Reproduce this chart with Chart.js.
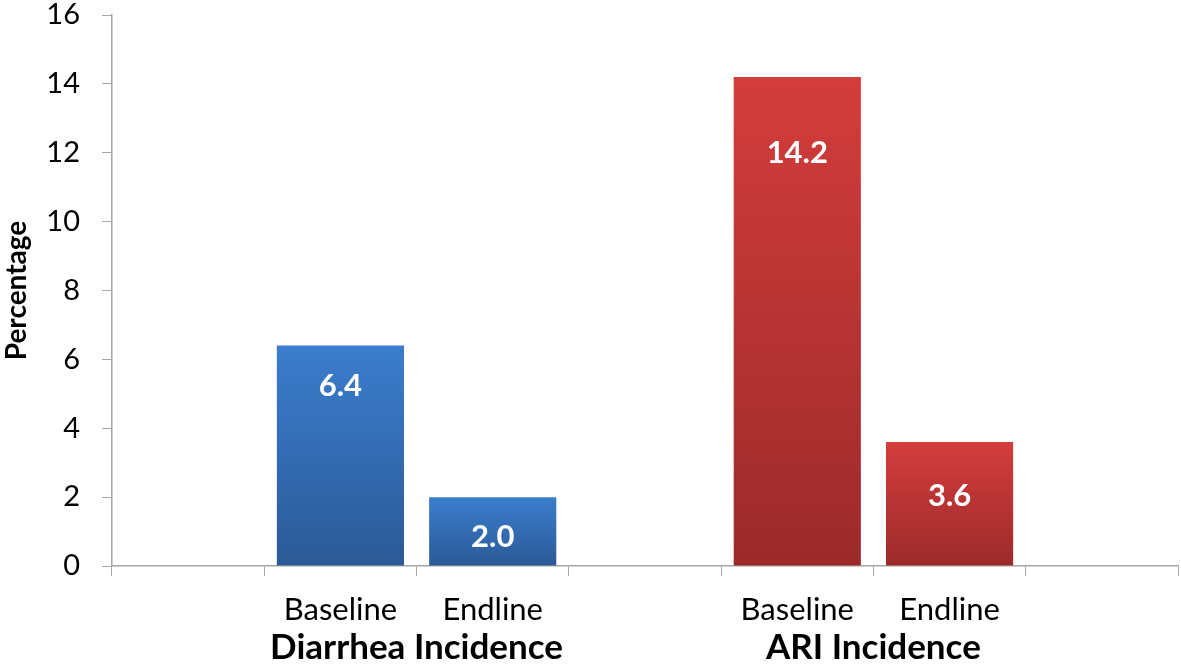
<!DOCTYPE html>
<html>
<head>
<meta charset="utf-8">
<script src="https://cdn.jsdelivr.net/npm/chart.js@4"></script>
<style>
  html, body { margin: 0; padding: 0; background: #fff; }
  #wrap { width: 1181px; height: 664px; }
</style>
</head>
<body>
<div id="wrap"><canvas id="chart"></canvas></div>
<script>
// slots along the x axis (empty slots give the spacing seen in the original)
var categories = ['', 'Baseline', 'Endline', '', 'Baseline', 'Endline', ''];
var values = [null, 6.4, 2.0, null, 14.2, 3.6, null];
var groupNames = ['Diarrhea Incidence', 'ARI Incidence'];
var groupSlots = [[1, 2], [4, 5]];
var yTicks = [0, 2, 4, 6, 8, 10, 12, 14, 16];

// colours per slot: blue for diarrhea, red for ARI
var topColors = [null, '#3b7dce', '#3b7dce', null, '#d33d3c', '#d33d3c', null];
var bottomColors = [null, '#2b5a96', '#2b5a96', null, '#9c2a2a', '#9c2a2a', null];
// how far below the bar top the value label sits (px)
var labelDrop = [0, 40, 40, 0, 76, 54, 0];

var FONT = 'Lato, "Open Sans", sans-serif';

function barGradient(ctx) {
    var i = ctx.dataIndex;
    var chart = ctx.chart;
    var y = chart.scales.y;
    if (topColors[i] == null || !y || !chart.chartArea) {
        return topColors[i] || '#3b7dce';
    }
    var top = y.getPixelForValue(values[i]);
    var base = y.getPixelForValue(0);
    if (!isFinite(top) || !isFinite(base)) return topColors[i];
    var g = chart.ctx.createLinearGradient(0, top, 0, base);
    g.addColorStop(0, topColors[i]);
    g.addColorStop(1, bottomColors[i]);
    return g;
}

var labelsPlugin = {
    id: 'labelsPlugin',
    afterDatasetsDraw: function(chart) {
        var c = chart.ctx;
        var meta = chart.getDatasetMeta(0);
        c.save();
        c.fillStyle = '#ffffff';
        c.font = 'bold 31px ' + FONT;
        c.textAlign = 'center';
        c.textBaseline = 'middle';
        meta.data.forEach(function(bar, i) {
            if (values[i] == null) return;
            c.fillText(values[i].toFixed(1), bar.x, bar.y + labelDrop[i]);
        });
        c.restore();
    },
    afterDraw: function(chart) {
        var c = chart.ctx;
        var x = chart.scales.x;
        c.save();
        c.fillStyle = '#000';
        c.font = 'bold 35px ' + FONT;
        c.textAlign = 'center';
        c.textBaseline = 'middle';
        groupSlots.forEach(function(s, k) {
            var px = (x.getPixelForValue(s[0]) + x.getPixelForValue(s[1])) / 2;
            c.fillText(groupNames[k], px, 648);
        });
        c.restore();
    }
};

var ctx = document.getElementById('chart').getContext('2d');
var chart = new Chart(ctx, {
    type: 'bar',
    data: {
        labels: categories,
        datasets: [{
            data: values,
            backgroundColor: barGradient,
            borderWidth: 0,
            barPercentage: 0.835,
            categoryPercentage: 1.0
        }]
    },
    options: {
        responsive: true,
        maintainAspectRatio: false,
        animation: false,
        layout: { padding: { top: 0, right: 3, left: 0, bottom: 0 } },
        plugins: {
            legend: { display: false },
            tooltip: { enabled: false }
        },
        scales: {
            x: {
                offset: true,
                grid: {
                    offset: true,
                    drawOnChartArea: false,
                    tickLength: 10,
                    tickColor: '#a6a6a6'
                },
                border: { color: '#a6a6a6', width: 1.5 },
                ticks: {
                    color: '#000',
                    font: { family: FONT, size: 31 },
                    padding: 15,
                    maxRotation: 0,
                    autoSkip: false
                },
                afterFit: function(scale) { scale.height = 98; }
            },
            y: {
                min: 0,
                max: 16,
                afterBuildTicks: function(scale) {
                    scale.ticks = yTicks.map(function(v) { return { value: v }; });
                },
                grid: {
                    drawOnChartArea: false,
                    tickLength: 10,
                    tickColor: '#a6a6a6'
                },
                border: { color: '#a6a6a6', width: 1.5 },
                ticks: {
                    color: '#000',
                    font: { family: FONT, size: 29 },
                    padding: 22
                },
                title: {
                    display: true,
                    text: 'Percentage',
                    color: '#000',
                    font: { family: FONT, size: 28, weight: 'bold' },
                    padding: 0
                },
                afterFit: function(scale) {
                    scale.width = 112;
                    scale.paddingTop = 15;
                    scale.paddingBottom = 0;
                }
            }
        }
    },
    plugins: [labelsPlugin]
});
</script>
</body>
</html>
